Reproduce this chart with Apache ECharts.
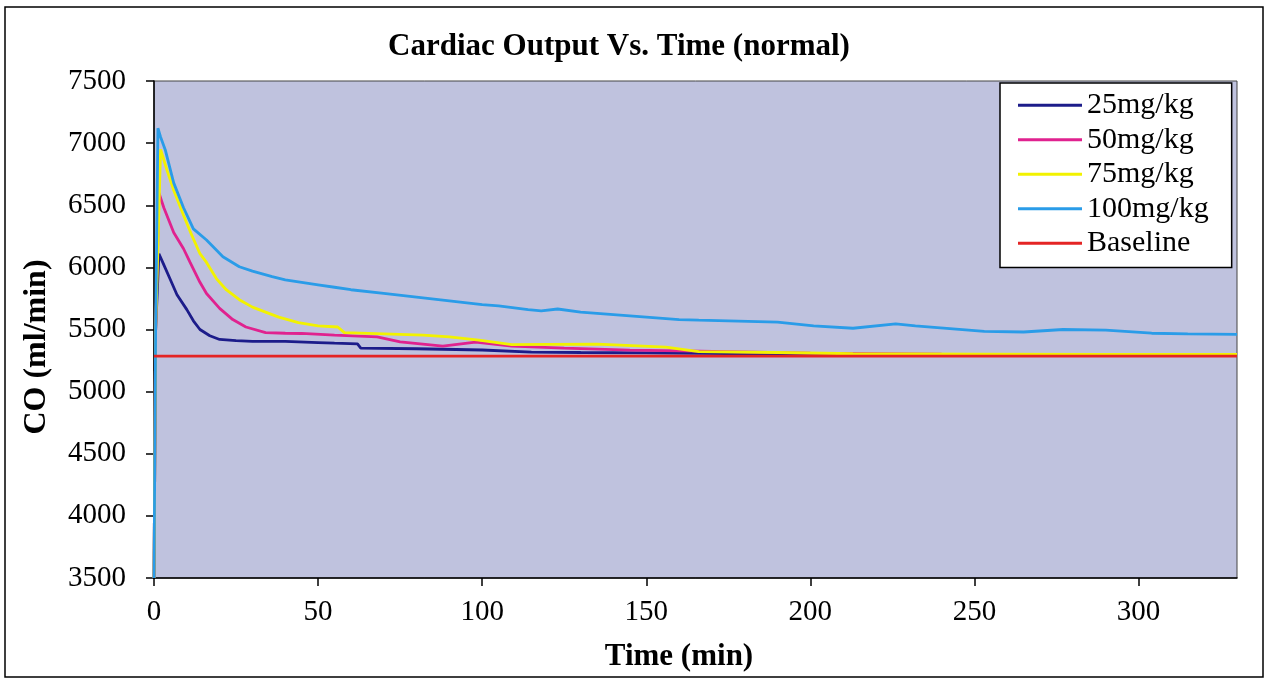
<!DOCTYPE html>
<html>
<head>
<meta charset="utf-8">
<script src="https://cdn.jsdelivr.net/npm/echarts@6/dist/echarts.min.js"></script>
<style>html,body{margin:0;padding:0;background:#fff}#c{width:1266px;height:680px}</style>
</head>
<body>
<div id="c"></div>
<script>
// ---- data ----
var seriesNames = ['25mg/kg', '50mg/kg', '75mg/kg', '100mg/kg', 'Baseline'];

var t25 = [0, 0.5, 1.5, 3, 5, 7, 10, 12, 14, 17, 20, 25, 30, 40, 50, 55, 62, 63, 80, 100, 115, 130, 150, 166, 200, 226, 260, 300, 330];
var v25 = [3500, 5500, 6110, 6020, 5900, 5780, 5660, 5570, 5500, 5450, 5420, 5410, 5405, 5405, 5395, 5390, 5385, 5350, 5345, 5335, 5318, 5315, 5312, 5308, 5300, 5295, 5292, 5290, 5290];

var t50 = [0, 0.5, 1.5, 3, 6, 9, 11, 14, 16, 20, 24, 28, 34, 40, 45, 55, 68, 75, 88, 98, 109, 125, 145, 166, 200, 240, 280, 330];
var v50 = [3500, 5500, 6600, 6480, 6280, 6150, 6040, 5880, 5790, 5670, 5580, 5520, 5475, 5470, 5468, 5455, 5440, 5400, 5366, 5398, 5366, 5350, 5334, 5326, 5310, 5302, 5300, 5300];

var t75 = [0, 0.5, 2, 4, 6, 9, 11, 14, 16, 19, 22, 26, 30, 38, 44, 50, 56, 58, 70, 82, 90, 99, 109, 120, 135, 156, 166, 190, 213, 250, 290, 330];
var v75 = [3500, 5500, 6950, 6780, 6620, 6420, 6290, 6110, 6040, 5910, 5820, 5740, 5680, 5600, 5555, 5530, 5520, 5475, 5465, 5455, 5440, 5415, 5378, 5380, 5383, 5358, 5322, 5315, 5305, 5302, 5300, 5300];

var t100 = [0, 0.5, 1.2, 2, 3.5, 6, 9, 12, 16, 21, 26, 30, 36, 40, 45, 50, 55, 60, 70, 80, 90, 100, 105, 114, 118, 123, 130, 140, 150, 160, 166, 175, 190, 201, 213, 226, 232, 253, 265, 277, 290, 304, 315, 330];
var v100 = [3500, 5500, 7120, 7050, 6940, 6680, 6480, 6310, 6220, 6085, 6005, 5970, 5925, 5900, 5880, 5860, 5840, 5820, 5790, 5760, 5730, 5700, 5690, 5660, 5650, 5665, 5640, 5620, 5600, 5580, 5575, 5570, 5560, 5530, 5510, 5545, 5530, 5485, 5480, 5500, 5495, 5470, 5465, 5460];

var tBase = [0, 330];
var vBase = [5285, 5285];

var xTicks = [0, 50, 100, 150, 200, 250, 300];
var yTicks = [3500, 4000, 4500, 5000, 5500, 6000, 6500, 7000, 7500];

// ---- build ----
function pairs(t, v) { return t.map(function (x, i) { return [x, v[i]]; }); }
var colors = ['#1c1c8a', '#e0228f', '#f2f200', '#2a9ce8', '#e42424'];
var allT = [t25, t50, t75, t100, tBase];
var allV = [v25, v50, v75, v100, vBase];
var FONT = '"Liberation Serif", "Times New Roman", serif';

var series = seriesNames.map(function (n, i) {
  return {
    name: n, type: 'line', data: pairs(allT[i], allV[i]),
    symbol: 'none', smooth: false, animation: false,
    lineStyle: { color: colors[i], width: 2.8 }, itemStyle: { color: colors[i] }
  };
});

var chart = echarts.init(document.getElementById('c'));
chart.setOption({
  animation: false,
  grid: { left: 154, right: 29, top: 81, bottom: 102, show: true,
          backgroundColor: '#bfc2de', borderColor: '#444', borderWidth: 1 },
  xAxis: {
    type: 'value', min: 0, max: 330, interval: 50,
    axisLine: { show: true, lineStyle: { color: '#000', width: 1.5 } },
    axisTick: { show: true, length: 8, lineStyle: { color: '#000', width: 1.5 } },
    splitLine: { show: false },
    axisLabel: { fontFamily: FONT, fontSize: 29, color: '#000', margin: 20,
                 showMaxLabel: false,
                 formatter: function (v) { return xTicks.indexOf(v) >= 0 ? String(v) : ''; } }
  },
  yAxis: {
    type: 'value', min: 3500, max: 7500, interval: 500,
    axisLine: { show: true, lineStyle: { color: '#000', width: 1.5 } },
    axisTick: { show: true, length: 8, lineStyle: { color: '#000', width: 1.5 } },
    splitLine: { show: false },
    axisLabel: { fontFamily: FONT, fontSize: 29, color: '#000', margin: 28,
                 formatter: function (v) { return yTicks.indexOf(v) >= 0 ? String(v) : ''; } }
  },
  legend: {
    data: seriesNames, orient: 'vertical', left: 1000, top: 83,
    icon: 'rect', itemWidth: 64, itemHeight: 3, itemGap: 4,
    backgroundColor: '#fff', borderColor: '#000', borderWidth: 1.5,
    padding: [7, 23, 9, 18],
    textStyle: { fontFamily: FONT, fontSize: 30, color: '#000', lineHeight: 30.5 }
  },
  graphic: [
    { type: 'rect', shape: { x: 5, y: 7, width: 1258, height: 670 },
      style: { fill: 'none', stroke: '#000', lineWidth: 1.5 }, z: 100, silent: true },
    { type: 'text', x: 619, y: 47, z: 100,
      style: { text: 'Cardiac Output Vs. Time (normal)', fontFamily: FONT, fontSize: 31,
               fontWeight: 'bold', fill: '#000', textAlign: 'center', textVerticalAlign: 'middle' } },
    { type: 'text', x: 679, y: 657, z: 100,
      style: { text: 'Time (min)', fontFamily: FONT, fontSize: 31,
               fontWeight: 'bold', fill: '#000', textAlign: 'center', textVerticalAlign: 'middle' } },
    { type: 'text', x: 37, y: 347, rotation: Math.PI / 2, z: 100,
      style: { text: 'CO (ml/min)', fontFamily: FONT, fontSize: 32,
               fontWeight: 'bold', fill: '#000', textAlign: 'center', textVerticalAlign: 'middle' } }
  ],
  series: series
});
</script>
</body>
</html>
